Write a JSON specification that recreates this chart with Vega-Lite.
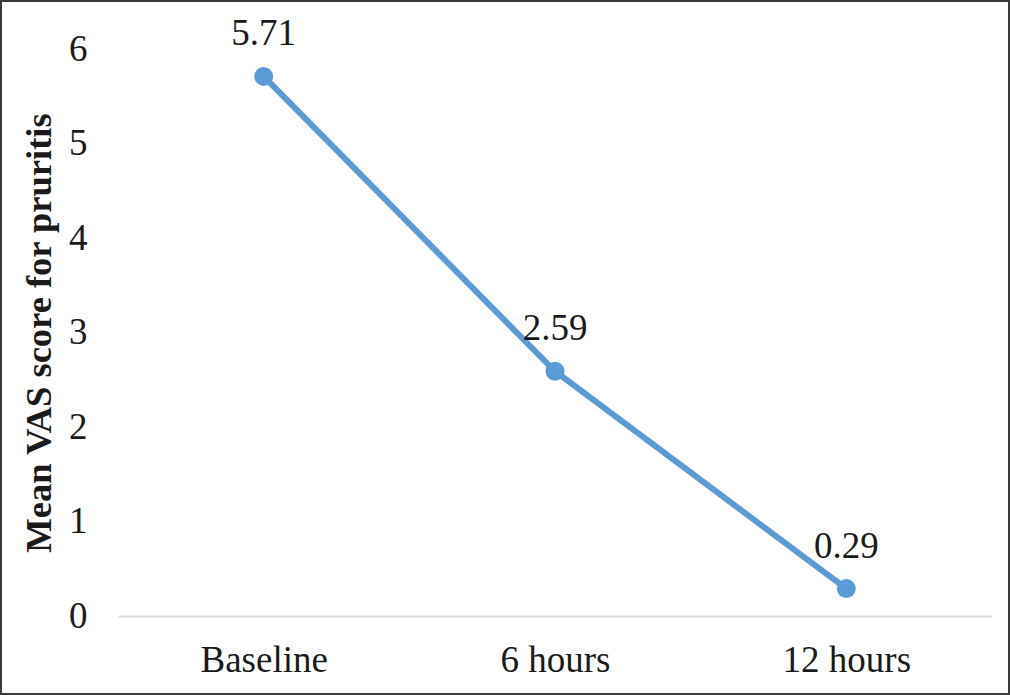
{
  "$schema": "https://vega.github.io/schema/vega-lite/v6.json",
  "width": 1008,
  "height": 693,
  "autosize": {"type": "none"},
  "padding": 1,
  "background": "white",
  "config": {
    "view": {"stroke": "#3a3a3a", "strokeWidth": 2},
    "font": "Times New Roman, Liberation Serif, DejaVu Serif, serif",
    "axis": {
      "labelFont": "Times New Roman, Liberation Serif, DejaVu Serif, serif",
      "titleFont": "Times New Roman, Liberation Serif, DejaVu Serif, serif"
    },
    "text": {"font": "Times New Roman, Liberation Serif, DejaVu Serif, serif"}
  },
  "data": {
    "values": [
      {"time": "Baseline", "score": 5.71},
      {"time": "6 hours", "score": 2.59},
      {"time": "12 hours", "score": 0.29}
    ]
  },
  "encoding": {
    "x": {
      "field": "time",
      "type": "ordinal",
      "sort": null,
      "scale": {"type": "point", "range": [117, 991], "padding": 0.5},
      "axis": {
        "title": null,
        "offset": -78,
        "labelAngle": 0,
        "labelFontSize": 37,
        "labelColor": "#1a1a1a",
        "labelPadding": 26,
        "ticks": false,
        "domainColor": "#d9d9d9",
        "domainWidth": 2,
        "grid": false
      }
    },
    "y": {
      "field": "score",
      "type": "quantitative",
      "scale": {"domain": [0, 6], "range": [615, 48], "nice": false},
      "axis": {
        "title": "Mean VAS score for pruritis",
        "titleFontSize": 36.5,
        "titleFontWeight": "bold",
        "titleColor": "#1a1a1a",
        "titlePadding": 10,
        "offset": -117,
        "values": [0, 1, 2, 3, 4, 5, 6],
        "labelFontSize": 37,
        "labelColor": "#1a1a1a",
        "labelPadding": 31,
        "domain": false,
        "ticks": false,
        "grid": false
      }
    }
  },
  "layer": [
    {
      "mark": {
        "type": "line",
        "color": "#5b9bd5",
        "strokeWidth": 6,
        "point": {"filled": true, "size": 360, "color": "#5b9bd5", "opacity": 1}
      }
    },
    {
      "mark": {
        "type": "text",
        "fontSize": 37,
        "baseline": "alphabetic",
        "dy": -31,
        "color": "#1a1a1a",
        "font": "Times New Roman, Liberation Serif, DejaVu Serif, serif"
      },
      "encoding": {
        "text": {"field": "score", "type": "quantitative", "format": ".2f"}
      }
    }
  ]
}
